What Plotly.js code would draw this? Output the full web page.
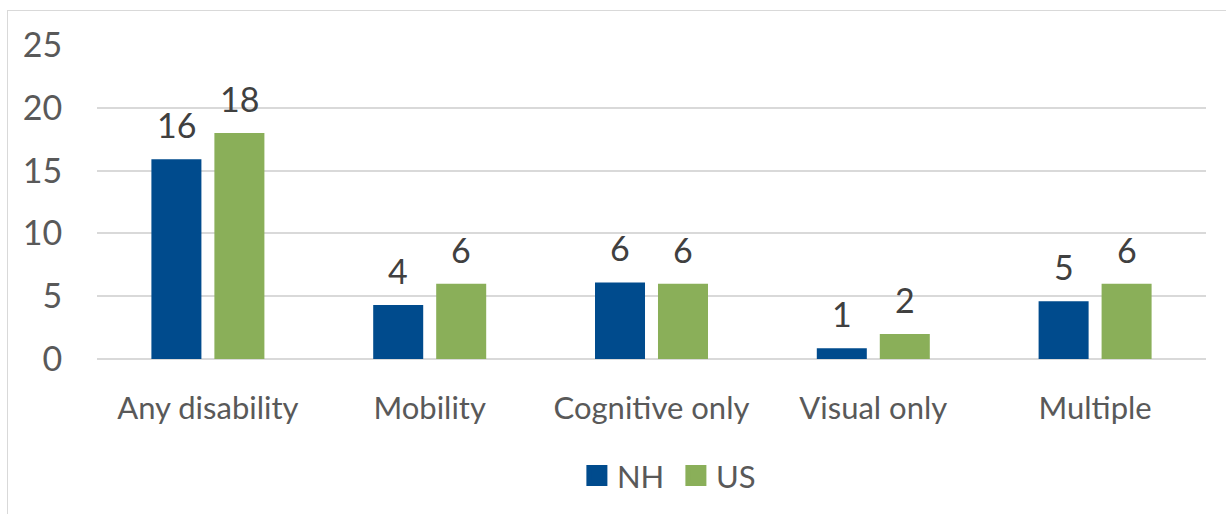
<!DOCTYPE html>
<html>
<head>
<meta charset="utf-8">
<script src="https://cdn.plot.ly/plotly-3.0.1.min.js"></script>
<style>
  html, body { margin: 0; padding: 0; background: #ffffff; }
  #frame { position: absolute; left: 7px; top: 10px; width: 1230px; height: 520px; border: 1px solid #d9d9d9; box-sizing: border-box; }
  #chart { position: absolute; left: 0; top: 0; width: 1226px; height: 514px; }
</style>
</head>
<body>
<div id="frame"></div>
<div id="chart"></div>
<script>
const categories = ["Any disability", "Mobility", "Cognitive only", "Visual only", "Multiple"];
const nhValues = [15.9, 4.3, 6.1, 0.85, 4.6];
const usValues = [18.0, 6.0, 6.0, 2.0, 6.0];
const seriesNames = ["NH", "US"];
const seriesColors = ["#004B8D", "#8AAF59"];
const yTicks = [0, 5, 10, 15, 20, 25];

const FONT = "Lato, 'Open Sans', sans-serif";
const series = [nhValues, usValues];

const traces = [];
series.forEach((vals, i) => {
  traces.push({
    type: "bar", name: seriesNames[i], x: categories, y: vals,
    marker: { color: seriesColors[i] }, showlegend: false, hoverinfo: "x+y"
  });
});
// legend entries (larger square swatches)
series.forEach((vals, i) => {
  traces.push({
    type: "scatter", mode: "markers", name: seriesNames[i], x: [null], y: [null],
    marker: { symbol: "square", size: 16, color: seriesColors[i], line: { color: seriesColors[i], width: 5 } },
    showlegend: true, hoverinfo: "skip"
  });
});

// data labels placed above each bar via the axes' scales
const SLOT_SHIFT = 31.5;
const annotations = [];
series.forEach((vals, i) => {
  vals.forEach((v, j) => {
    annotations.push({
      x: categories[j], y: v, xref: "x", yref: "y",
      text: String(Math.round(v)), showarrow: false,
      xanchor: "center", yanchor: "bottom",
      xshift: (i === 0 ? -1 : 1) * SLOT_SHIFT, yshift: 12,
      font: { family: FONT, size: 34, color: "#404040" }
    });
  });
});

const layout = {
  width: 1226, height: 514,
  margin: { l: 97, r: 20, t: 45, b: 154 },
  paper_bgcolor: "rgba(0,0,0,0)", plot_bgcolor: "rgba(0,0,0,0)",
  font: { family: FONT, size: 31, color: "#595959" },
  barmode: "group", bargap: 0.432, bargroupgap: 0.206,
  showlegend: true,
  legend: {
    orientation: "h", x: 0.522, xanchor: "center", y: -0.368, yanchor: "middle",
    font: { family: FONT, size: 31, color: "#595959" },
    entrywidth: 54, entrywidthmode: "pixels", traceorder: "normal"
  },
  annotations: annotations,
  xaxis: {
    type: "category", showgrid: false, showline: false, zeroline: false,
    ticks: "outside", ticklen: 22, tickcolor: "rgba(0,0,0,0)",
    tickfont: { family: FONT, size: 31, color: "#595959" }
  },
  yaxis: {
    range: [0, 25], tickvals: yTicks, ticktext: yTicks.map(String),
    showgrid: true, gridcolor: "#d9d9d9", gridwidth: 2,
    zeroline: true, zerolinecolor: "#d9d9d9", zerolinewidth: 2, showline: false,
    ticks: "outside", ticklen: 27, tickcolor: "rgba(0,0,0,0)",
    tickfont: { family: FONT, size: 34, color: "#595959" }, fixedrange: true
  }
};

Plotly.newPlot("chart", traces, layout, { displayModeBar: false, staticPlot: true });
</script>
</body>
</html>
